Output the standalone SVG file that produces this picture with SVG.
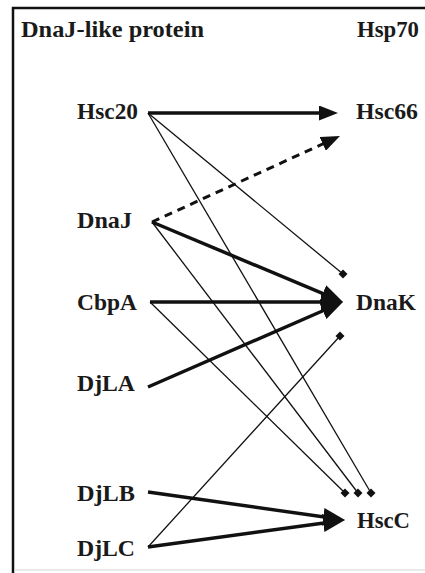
<svg xmlns="http://www.w3.org/2000/svg" width="425" height="573" viewBox="0 0 425 573">
  <style>
    text { font-family: 'Liberation Serif', 'Times New Roman', serif; font-weight: 700; fill: #1a1a1a; }
    .head { font-size: 23.5px; }
    .lbl { font-size: 23.5px; }
    .strong { stroke: #111; stroke-width: 3.5; fill: none; }
    .dash { stroke: #111; stroke-width: 3; fill: none; stroke-dasharray: 8 6; }
    .thin { stroke: #111; stroke-width: 1.3; fill: none; }
  </style>
  <defs>
    <marker id="arrow" viewBox="0 0 22 18" refX="12" refY="9" markerWidth="22" markerHeight="18" markerUnits="userSpaceOnUse" orient="auto">
      <path d="M0,0 L22,9 L0,18 z" fill="#111"/>
    </marker>
    <marker id="arrow-sm" viewBox="0 0 19 15" refX="9" refY="7.5" markerWidth="19" markerHeight="15" markerUnits="userSpaceOnUse" orient="auto">
      <path d="M0,0 L19,7.5 L0,15 z" fill="#111"/>
    </marker>
    <marker id="diamond" viewBox="-6 -6 12 12" refX="0" refY="0" markerWidth="12" markerHeight="12" markerUnits="userSpaceOnUse">
      <path d="M0,-4.5 L4.5,0 L0,4.5 L-4.5,0 z" fill="#111"/>
    </marker>
  </defs>

  <rect x="0" y="0" width="425" height="573" fill="#ffffff"/>

  <!-- frame -->
  <g id="frame">
    <path d="M13,573 V8 H425" fill="none" stroke="#111" stroke-width="2.5"/>
    <line x1="14" y1="570" x2="425" y2="570" stroke="#d4d4d4" stroke-width="1"/>
  </g>

  <!-- column headings -->
  <g id="headings">
    <text class="head" x="21" y="37" textLength="183" lengthAdjust="spacingAndGlyphs">DnaJ-like protein</text>
    <text class="head" x="357" y="37" textLength="62" lengthAdjust="spacingAndGlyphs">Hsp70</text>
  </g>

  <!-- connectors -->
  <g id="connectors">
    <line class="strong" x1="148" y1="113" x2="328" y2="113" marker-end="url(#arrow-sm)"/>
    <line class="dash" x1="152" y1="222" x2="330.9" y2="140.2" marker-end="url(#arrow-sm)"/>
    <line class="strong" x1="152" y1="222" x2="333.8" y2="298.1" marker-end="url(#arrow)"/>
    <line class="strong" x1="150" y1="302" x2="333" y2="302" marker-end="url(#arrow)"/>
    <line class="strong" x1="148" y1="387" x2="333.8" y2="306" marker-end="url(#arrow)"/>
    <line class="strong" x1="148" y1="492" x2="335.1" y2="518.6" marker-end="url(#arrow)"/>
    <line class="strong" x1="148" y1="547" x2="335.1" y2="521.4" marker-end="url(#arrow)"/>

    <line class="thin" x1="148" y1="113" x2="343" y2="274" marker-end="url(#diamond)"/>
    <line class="thin" x1="148" y1="113" x2="371" y2="493" marker-end="url(#diamond)"/>
    <line class="thin" x1="152" y1="222" x2="358" y2="493" marker-end="url(#diamond)"/>
    <line class="thin" x1="150" y1="302" x2="345" y2="493" marker-end="url(#diamond)"/>
    <line class="thin" x1="148" y1="547" x2="340" y2="336" marker-end="url(#diamond)"/>
  </g>

  <!-- DnaJ-like proteins -->
  <g id="hsc20"><text class="lbl" x="77" y="119" textLength="61" lengthAdjust="spacingAndGlyphs">Hsc20</text></g>
  <g id="dnaj"><text class="lbl" x="77" y="228" textLength="55" lengthAdjust="spacingAndGlyphs">DnaJ</text></g>
  <g id="cbpa"><text class="lbl" x="77" y="310" textLength="60" lengthAdjust="spacingAndGlyphs">CbpA</text></g>
  <g id="djla"><text class="lbl" x="77" y="391" textLength="58" lengthAdjust="spacingAndGlyphs">DjLA</text></g>
  <g id="djlb"><text class="lbl" x="77" y="501" textLength="58" lengthAdjust="spacingAndGlyphs">DjLB</text></g>
  <g id="djlc"><text class="lbl" x="77" y="556" textLength="58" lengthAdjust="spacingAndGlyphs">DjLC</text></g>

  <!-- Hsp70 proteins -->
  <g id="hsc66"><text class="lbl" x="356" y="119" textLength="62" lengthAdjust="spacingAndGlyphs">Hsc66</text></g>
  <g id="dnak"><text class="lbl" x="356" y="310" textLength="60" lengthAdjust="spacingAndGlyphs">DnaK</text></g>
  <g id="hscc"><text class="lbl" x="357" y="528" textLength="53" lengthAdjust="spacingAndGlyphs">HscC</text></g>
</svg>
